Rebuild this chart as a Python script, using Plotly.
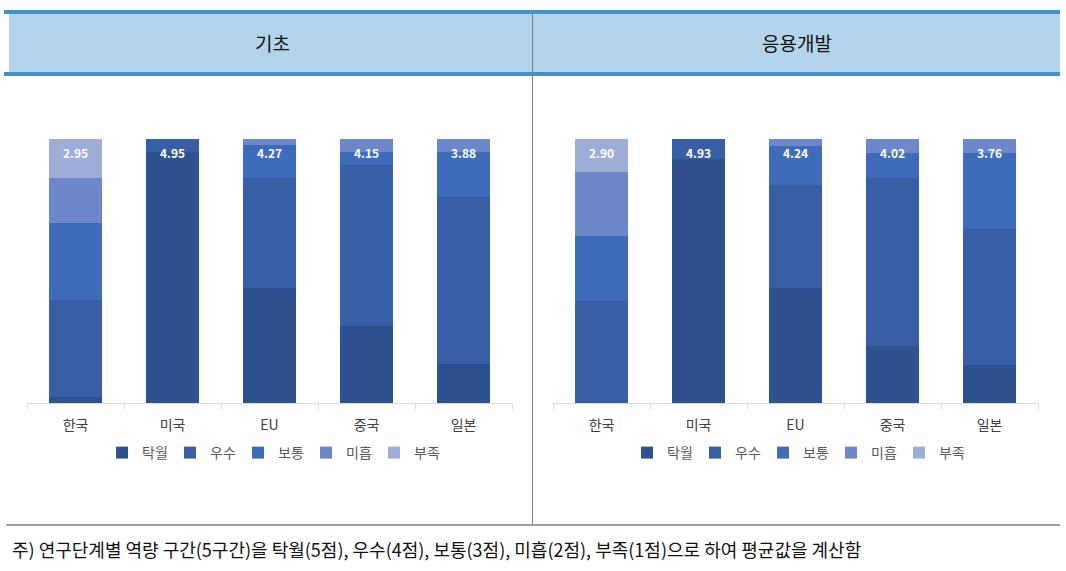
import plotly.graph_objects as go

countries = ["한국", "미국", "EU", "중국", "일본"]
levels = ["탁월", "우수", "보통", "미흡", "부족"]
colors = ["#2E5290", "#385EA6", "#3E6CBA", "#6D88CA", "#9EADD8"]

# 기초 (percent shares per level)
basic_탁월 = [2.2, 95.2, 43.7, 29.1, 14.6]
basic_우수 = [36.7, 4.8, 41.6, 61.0, 63.5]
basic_보통 = [29.4, 0.0, 12.3, 5.1, 17.1]
basic_미흡 = [17.1, 0.0, 2.4, 4.8, 4.8]
basic_부족 = [14.6, 0.0, 0.0, 0.0, 0.0]
basic_avg = ["2.95", "4.95", "4.27", "4.15", "3.88"]

# 응용개발
applied_탁월 = [0.0, 92.4, 43.7, 21.6, 14.5]
applied_우수 = [38.6, 7.6, 38.9, 63.6, 51.5]
applied_보통 = [24.5, 0.0, 14.8, 9.5, 28.7]
applied_미흡 = [24.4, 0.0, 2.6, 5.3, 5.3]
applied_부족 = [12.5, 0.0, 0.0, 0.0, 0.0]
applied_avg = ["2.90", "4.93", "4.24", "4.02", "3.76"]

titles = ["기초", "응용개발"]
footnote = "주) 연구단계별 역량 구간(5구간)을 탁월(5점), 우수(4점), 보통(3점), 미흡(2점), 부족(1점)으로 하여 평균값을 계산함"

W, H = 1066, 571
FONT = "Noto Sans CJK KR"

def px(x):
    return x / W

def py(y):
    return 1 - y / H

fig = go.Figure()

panels = [
    ([basic_탁월, basic_우수, basic_보통, basic_미흡, basic_부족], basic_avg, "x", "y", "legend"),
    ([applied_탁월, applied_우수, applied_보통, applied_미흡, applied_부족], applied_avg, "x2", "y2", "legend2"),
]

for series, avgs, xa, ya, lg in panels:
    for name, vals, col in zip(levels, series, colors):
        fig.add_trace(go.Bar(
            x=countries, y=vals, name=name, marker=dict(color=col, line=dict(width=0)),
            xaxis=xa, yaxis=ya, legend=lg, hoverinfo="skip",
        ))
    fig.add_trace(go.Scatter(
        x=countries, y=[94] * len(countries), text=avgs, mode="text",
        textfont=dict(family=FONT, size=12, color="white", weight="bold"),
        xaxis=xa, yaxis=ya, showlegend=False, hoverinfo="skip",
    ))

ydom = [py(403), py(139)]
axis_common = dict(
    type="category", showline=True, linecolor="#D9D9D9", linewidth=1,
    ticks="outside", ticklen=5, tickcolor="#D9D9D9", tickson="boundaries",
    ticklabelstandoff=9,
    tickfont=dict(family=FONT, size=14, color="#404040"), showgrid=False, zeroline=False,
    fixedrange=True,
)
yaxis_common = dict(range=[0, 100], showticklabels=False, showgrid=False, zeroline=False,
                    showline=False, ticks="", domain=ydom, fixedrange=True)

legend_common = dict(orientation="h", y=py(453), yanchor="middle",
                     font=dict(family=FONT, size=14, color="#595959"), traceorder="normal",
                     itemwidth=30, entrywidth=23, entrywidthmode="pixels",
                     bgcolor="rgba(0,0,0,0)")

fig.update_layout(
    width=W, height=H, margin=dict(l=0, r=0, t=0, b=0, autoexpand=False),
    paper_bgcolor="white", plot_bgcolor="white",
    barmode="stack", bargap=0.45,
    xaxis=dict(domain=[px(27), px(512)], anchor="y", **axis_common),
    yaxis=dict(anchor="x", **yaxis_common),
    xaxis2=dict(domain=[px(553), px(1038)], anchor="y2", **axis_common),
    yaxis2=dict(anchor="x2", **yaxis_common),
    legend=dict(x=px(272), xanchor="center", **legend_common),
    legend2=dict(x=px(797), xanchor="center", **legend_common),
    showlegend=True,
)

shapes = []
# header bands
shapes.append(dict(type="rect", xref="paper", yref="paper", x0=px(9), x1=px(1060), y0=py(74), y1=py(12),
                   fillcolor="#B4D4EC", line=dict(width=0), layer="below"))
shapes.append(dict(type="line", xref="paper", yref="paper", x0=px(4), x1=px(1060), y0=py(12), y1=py(12),
                   line=dict(color="#4190D0", width=4)))
shapes.append(dict(type="line", xref="paper", yref="paper", x0=px(4), x1=px(1060), y0=py(74), y1=py(74),
                   line=dict(color="#4190D0", width=4)))
# divider
shapes.append(dict(type="line", xref="paper", yref="paper", x0=px(532.5), x1=px(532.5), y0=py(14), y1=py(525),
                   line=dict(color="#808080", width=1)))
# bottom rule
shapes.append(dict(type="line", xref="paper", yref="paper", x0=px(6), x1=px(1060), y0=py(525), y1=py(525),
                   line=dict(color="#808080", width=1.5)))

annotations = [
    dict(text=titles[0], x=px(272), y=py(43), xref="paper", yref="paper", showarrow=False,
         font=dict(family=FONT, size=19, color="#111111"), xanchor="center", yanchor="middle"),
    dict(text=titles[1], x=px(797), y=py(43), xref="paper", yref="paper", showarrow=False,
         font=dict(family=FONT, size=19, color="#111111"), xanchor="center", yanchor="middle"),
    dict(text=footnote, x=px(10), y=py(549), xref="paper", yref="paper", showarrow=False,
         font=dict(family=FONT, size=18, color="#111111"), xanchor="left", yanchor="middle"),
]
fig.update_layout(shapes=shapes, annotations=annotations)

fig.write_html("out.html")
